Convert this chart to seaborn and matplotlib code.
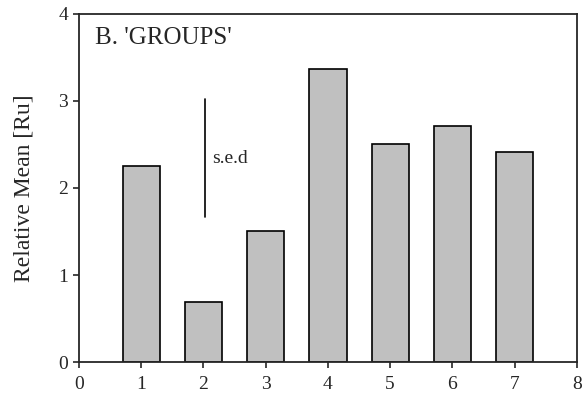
import numpy as np
import pandas as pd
import seaborn as sns
import matplotlib.pyplot as plt

sns.set_style("ticks")
plt.rcParams['font.family'] = ['Liberation Serif', 'DejaVu Serif']

groups = [1, 2, 3, 4, 5, 6, 7]
rel_mean = [2.25, 0.69, 1.51, 3.37, 2.51, 2.71, 2.41]
sed_x = 2.02
sed_range = [1.67, 3.02]

df = pd.DataFrame({"group": groups, "mean": rel_mean})

fig = plt.figure(figsize=(5.83, 3.97), dpi=100)
ax = fig.add_axes([0.1355, 0.088, 0.854, 0.877])

sns.barplot(data=df, x="group", y="mean", native_scale=True, width=0.6,
            color="#c0c0c0", saturation=1, edgecolor="black", linewidth=1.2, ax=ax)

# s.e.d bar
ax.plot([sed_x, sed_x], sed_range, color="black", lw=1.2)
ax.text(sed_x + 0.12, 2.34, "s.e.d", fontsize=14, va="center")

ax.text(0.26, 3.72, "B. 'GROUPS'", fontsize=18, va="center")

ax.set_xlim(0, 8)
ax.set_ylim(0, 4)
ax.set_xticks(range(0, 9))
ax.set_yticks(range(0, 5))
ax.tick_params(axis="both", labelsize=14, width=1.2, length=4, direction="out")
ax.tick_params(axis="x", pad=6)
ax.tick_params(axis="y", pad=4)
ax.set_xlabel("")
ax.set_ylabel("Relative Mean [Ru]", fontsize=17)
ax.yaxis.set_label_coords(-0.09, 0.5)
for s in ax.spines.values():
    s.set_linewidth(1.3)
    s.set_visible(True)

fig.savefig("out.png", dpi=100)
